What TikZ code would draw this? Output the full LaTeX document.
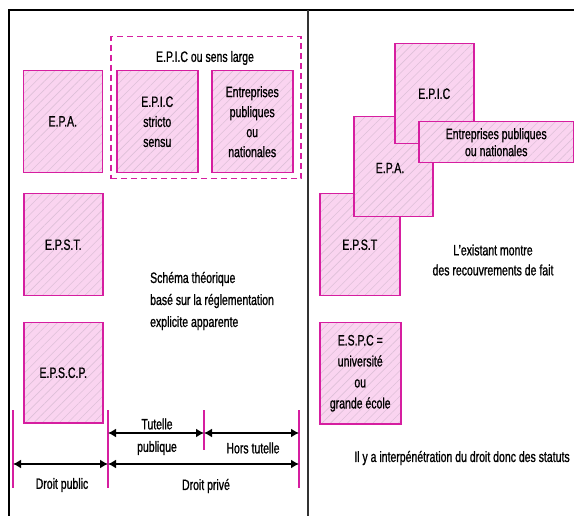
\documentclass[tikz,border=0pt]{standalone}
\usepackage{fontspec}
\setmainfont{Liberation Sans}[FakeStretch=0.7, FakeBold=1]
\usetikzlibrary{positioning}
\usetikzlibrary{arrows.meta}
\usetikzlibrary{patterns.meta}

\definecolor{boxline}{RGB}{214,30,160}
\definecolor{boxfill}{RGB}{250,212,240}
\definecolor{boxhatch}{RGB}{222,192,216}

\tikzset{
    unitbox/.style={rectangle, draw=boxline, line width=1.5pt, anchor=north west, inner sep=0pt, align=center,
        preaction={fill=boxfill}, pattern={Lines[angle=45, distance=6pt, line width=0.6pt]}, pattern color=boxhatch},
    groupbox/.style={rectangle, draw=boxline, line width=1.5pt, dash pattern=on 6pt off 4pt, anchor=north west, inner sep=0pt},
    limit/.style={draw=boxline, line width=1.3pt},
    span/.style={draw=black, line width=1.5pt, {Latex[length=8pt, width=9pt]}-{Latex[length=8pt, width=9pt]}},
    txt/.style={align=center, inner sep=0pt}
}

\begin{document}
\begin{tikzpicture}[x=1pt, y=-1pt, every node/.style={font=\fontsize{15}{20}\selectfont}]
    \useasboundingbox (0,0) rectangle (574,516);

    % frame and divider
    \draw [line width=1.2pt] (9,516) -- (9,10) -- (574,10);
    \draw [line width=2pt, black!80] (308,10) -- (308,516);

    % left half: theoretical scheme
    \node [groupbox, minimum width=190pt, minimum height=142pt] (epiclarge) at (110,36) {};
    \node [txt] (epiclargelbl) at (205,58) {E.P.I.C ou sens large};
    \node [unitbox, minimum width=79pt, minimum height=102pt] (epa) at (23,70) {E.P.A.};
    \node [unitbox, minimum width=81pt, minimum height=102pt] (epic) at (116,70) {E.P.I.C\\stricto\\sensu};
    \node [unitbox, minimum width=81pt, minimum height=102pt] (entr) at (211,70) {Entreprises\\publiques\\ou\\nationales};
    \node [unitbox, minimum width=79pt, minimum height=102pt] (epst) at (23,193) {E.P.S.T.};
    \node [unitbox, minimum width=79pt, minimum height=100pt] (epscp) at (23,322) {E.P.S.C.P.};
    \node [txt, align=left, anchor=west, font=\fontsize{15}{22}\selectfont] (schema) at (150,301) {Schéma théorique\\basé sur la réglementation\\explicite apparente};

    % limits of public / private law
    \coordinate (l1top) at (13,410);   \coordinate (l1bot) at (13,488);
    \coordinate (l2top) at (108,410);  \coordinate (l2bot) at (108,488);
    \coordinate (l3top) at (204,410);  \coordinate (l3bot) at (204,450);
    \coordinate (l4top) at (299,410);  \coordinate (l4bot) at (299,488);
    \draw [limit] (l1top) -- (l1bot);
    \draw [limit] (l2top) -- (l2bot);
    \draw [limit] (l3top) -- (l3bot);
    \draw [limit] (l4top) -- (l4bot);

    \coordinate (tut1) at (108,433);  \coordinate (tut2) at (204,433);  \coordinate (tut3) at (299,433);
    \coordinate (dr1) at (13,464);    \coordinate (dr2) at (108,464);   \coordinate (dr3) at (299,464);
    \draw [span] (tut1) -- (tut2);
    \draw [span] (tut2) -- (tut3);
    \draw [span] (dr1) -- (dr2);
    \draw [span] (dr2) -- (dr3);

    \node [txt] (tutelle) at (157,424) {Tutelle};
    \node [txt] (publique) at (157,448) {publique};
    \node [txt] (hors) at (253,448) {Hors tutelle};
    \node [txt] (dpublic) at (62,485) {Droit public};
    \node [txt] (dprive) at (206,486) {Droit privé};

    % right half: actual overlaps
    \node [unitbox, minimum width=80pt, minimum height=102pt] (repst) at (319,193) {E.P.S.T};
    \node [unitbox, minimum width=79pt, minimum height=100pt] (repa) at (353,116) {};
    \node [txt] (repalbl) at (390,168) {E.P.A.};
    \node [unitbox, minimum width=79pt, minimum height=100pt] (repic) at (394,43) {E.P.I.C};
    \node [unitbox, minimum width=155pt, minimum height=41pt, font=\fontsize{15}{17}\selectfont] (rentr) at (418,121) {Entreprises publiques\\ou nationales};
    \node [txt] (existant) at (493,260) {L'existant montre\\des recouvrements de fait};
    \node [unitbox, minimum width=81pt, minimum height=101pt, font=\fontsize{15}{21}\selectfont] (respc) at (319,322) {E.S.P.C =\\université\\ou\\grande école};
    \node [txt] (interpen) at (462,458) {Il y a interpénétration du droit donc des statuts};
\end{tikzpicture}
\end{document}
